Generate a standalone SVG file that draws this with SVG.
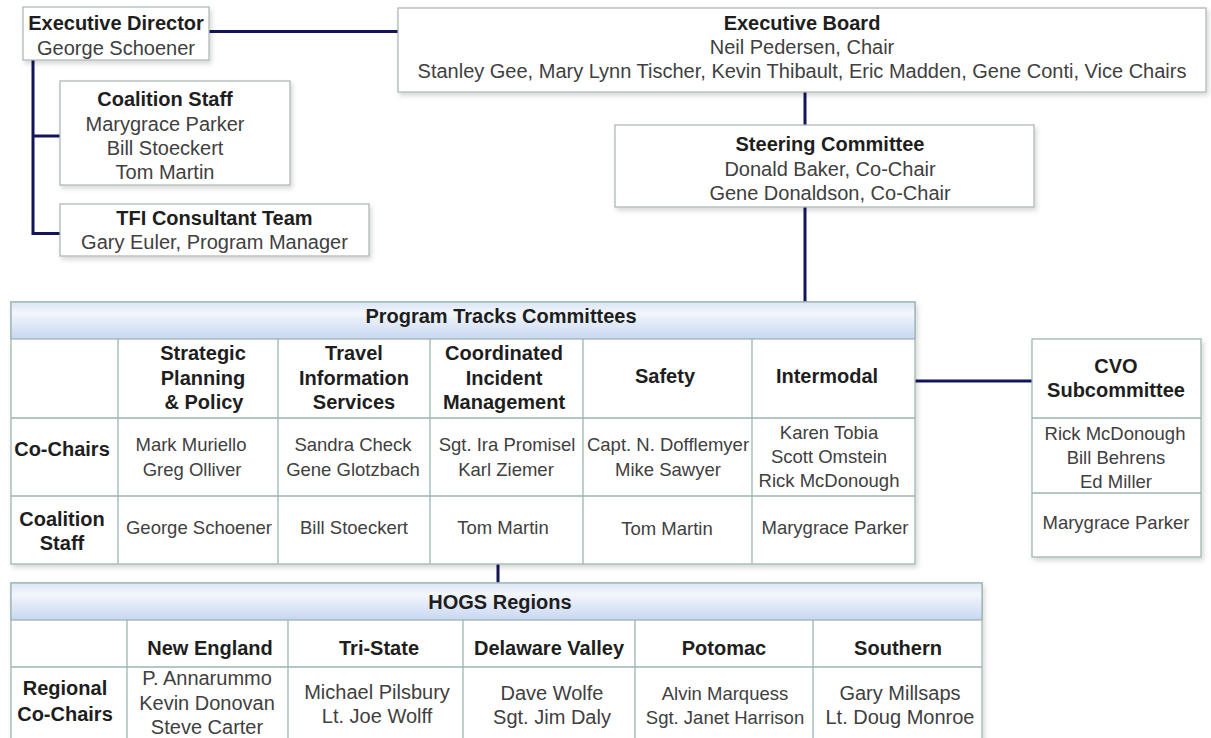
<svg xmlns="http://www.w3.org/2000/svg" width="1211" height="738" viewBox="0 0 1211 738">
  <defs>
    <filter id="shadow" x="-5%" y="-10%" width="115%" height="140%">
      <feDropShadow dx="2" dy="3" stdDeviation="2.5" flood-color="#000" flood-opacity="0.16"/>
    </filter>
    <linearGradient id="hdr" x1="0" y1="0" x2="0" y2="1">
      <stop offset="0" stop-color="#dbe5f5"/>
      <stop offset="0.3" stop-color="#f3f6fc"/>
      <stop offset="1" stop-color="#c7d7f1"/>
    </linearGradient>
    <style>
      .box { fill: #ffffff; stroke: #aab2b2; stroke-width: 1.2; filter: url(#shadow); }
      .tbl { fill: #ffffff; stroke: #9db5b1; stroke-width: 1.3; filter: url(#shadow); }
      .head { fill: url(#hdr); stroke: #9db5b1; stroke-width: 1.3; }
      .grid { stroke: #9db5b1; stroke-width: 1.3; fill: none; }
      .link { stroke: #14145a; stroke-width: 3; fill: none; stroke-linecap: butt; }
      text { font-family: "Liberation Sans", Arial, sans-serif; text-anchor: middle; }
      .t { font-size: 20px; font-weight: bold; fill: #1e1e1e; }
      .n { font-size: 20px; fill: #404040; }
      .s { font-size: 18.5px; fill: #404040; }
    </style>
  </defs>

  <rect width="1211" height="738" fill="#ffffff"/>

  <!-- connectors -->
  <g id="connectors">
    <path class="link" d="M209 31.5 H398"/>
    <path class="link" d="M33 60 V233.5 H60 M33 136 H60"/>
    <path class="link" d="M805 92 V125"/>
    <path class="link" d="M805 207 V302"/>
    <path class="link" d="M915 381 H1032"/>
    <path class="link" d="M498 564 V583"/>
  </g>

  <g id="executive-director">
    <rect class="box" x="23" y="7" width="186" height="53"/>
    <text class="t" x="116" y="30">Executive Director</text>
    <text class="n" x="116" y="55">George Schoener</text>
  </g>

  <g id="coalition-staff">
    <rect class="box" x="60" y="81" width="230" height="104"/>
    <text class="t" x="165" y="106">Coalition Staff</text>
    <text class="n" x="165" y="131">Marygrace Parker</text>
    <text class="n" x="165" y="155">Bill Stoeckert</text>
    <text class="n" x="165" y="179">Tom Martin</text>
  </g>

  <g id="tfi-consultant-team">
    <rect class="box" x="60" y="204" width="309" height="52"/>
    <text class="t" x="214.5" y="225">TFI Consultant Team</text>
    <text class="n" x="214.5" y="249">Gary Euler, Program Manager</text>
  </g>

  <g id="executive-board">
    <rect class="box" x="398" y="8" width="808" height="84"/>
    <text class="t" x="802" y="30">Executive Board</text>
    <text class="n" x="802" y="54">Neil Pedersen, Chair</text>
    <text class="n" x="802" y="78">Stanley Gee, Mary Lynn Tischer, Kevin Thibault, Eric Madden, Gene Conti, Vice Chairs</text>
  </g>

  <g id="steering-committee">
    <rect class="box" x="615" y="125" width="419" height="82"/>
    <text class="t" x="830" y="151">Steering Committee</text>
    <text class="n" x="830" y="176">Donald Baker, Co-Chair</text>
    <text class="n" x="830" y="200">Gene Donaldson, Co-Chair</text>
  </g>

  <g id="program-tracks-committees">
    <rect class="tbl" x="11" y="302" width="904" height="262"/>
    <rect class="head" x="11" y="302" width="904" height="37"/>
    <path class="grid" d="M11 418 H915 M11 496 H915 M118 339 V564 M278 339 V564 M430 339 V564 M583 339 V564 M752 339 V564"/>
    <text class="t" x="501" y="323">Program Tracks Committees</text>

    <text class="t" x="203" y="360">Strategic</text>
    <text class="t" x="203" y="385">Planning</text>
    <text class="t" x="204" y="409">&amp; Policy</text>
    <text class="t" x="354" y="360">Travel</text>
    <text class="t" x="354" y="385">Information</text>
    <text class="t" x="354" y="409">Services</text>
    <text class="t" x="504" y="360">Coordinated</text>
    <text class="t" x="504" y="385">Incident</text>
    <text class="t" x="504" y="409">Management</text>
    <text class="t" x="665" y="383">Safety</text>
    <text class="t" x="827" y="383">Intermodal</text>

    <text class="t" x="62" y="456">Co-Chairs</text>
    <text class="s" x="191" y="451">Mark Muriello</text>
    <text class="s" x="192" y="476">Greg Olliver</text>
    <text class="s" x="353" y="451">Sandra Check</text>
    <text class="s" x="353" y="476">Gene Glotzbach</text>
    <text class="s" x="507" y="451">Sgt. Ira Promisel</text>
    <text class="s" x="506" y="476">Karl Ziemer</text>
    <text class="s" x="668" y="451">Capt. N. Dofflemyer</text>
    <text class="s" x="668" y="476">Mike Sawyer</text>
    <text class="s" x="829" y="439">Karen Tobia</text>
    <text class="s" x="829" y="463">Scott Omstein</text>
    <text class="s" x="829" y="487">Rick McDonough</text>

    <text class="t" x="62" y="526">Coalition</text>
    <text class="t" x="62" y="550">Staff</text>
    <text class="s" x="199" y="534">George Schoener</text>
    <text class="s" x="354" y="534">Bill Stoeckert</text>
    <text class="s" x="503" y="534">Tom Martin</text>
    <text class="s" x="667" y="535">Tom Martin</text>
    <text class="s" x="835" y="534">Marygrace Parker</text>
  </g>

  <g id="cvo-subcommittee">
    <rect class="tbl" x="1032" y="339" width="169" height="218"/>
    <path class="grid" d="M1032 418 H1201 M1032 493 H1201"/>
    <text class="t" x="1116" y="373">CVO</text>
    <text class="t" x="1116" y="397">Subcommittee</text>
    <text class="s" x="1115" y="440">Rick McDonough</text>
    <text class="s" x="1116" y="464">Bill Behrens</text>
    <text class="s" x="1116" y="488">Ed Miller</text>
    <text class="s" x="1116" y="529">Marygrace Parker</text>
  </g>

  <g id="hogs-regions">
    <rect class="tbl" x="11" y="583" width="971" height="170"/>
    <rect class="head" x="11" y="583" width="971" height="37"/>
    <path class="grid" d="M11 667 H982 M127 620 V753 M288 620 V753 M463 620 V753 M635 620 V753 M813 620 V753"/>
    <text class="t" x="500" y="609">HOGS Regions</text>

    <text class="t" x="210" y="655">New England</text>
    <text class="t" x="379" y="655">Tri-State</text>
    <text class="t" x="549" y="655">Delaware Valley</text>
    <text class="t" x="724" y="655">Potomac</text>
    <text class="t" x="898" y="655">Southern</text>

    <text class="t" x="65" y="695">Regional</text>
    <text class="t" x="65" y="721">Co-Chairs</text>
    <text class="n" x="207" y="685">P. Annarummo</text>
    <text class="n" x="207" y="710">Kevin Donovan</text>
    <text class="n" x="207" y="734">Steve Carter</text>
    <text class="n" x="377" y="699">Michael Pilsbury</text>
    <text class="n" x="377" y="723">Lt. Joe Wolff</text>
    <text class="n" x="552" y="700">Dave Wolfe</text>
    <text class="n" x="552" y="724">Sgt. Jim Daly</text>
    <text class="s" x="725" y="700">Alvin Marquess</text>
    <text class="s" x="725" y="724">Sgt. Janet Harrison</text>
    <text class="n" x="900" y="700">Gary Millsaps</text>
    <text class="n" x="900" y="724">Lt. Doug Monroe</text>
  </g>
</svg>
